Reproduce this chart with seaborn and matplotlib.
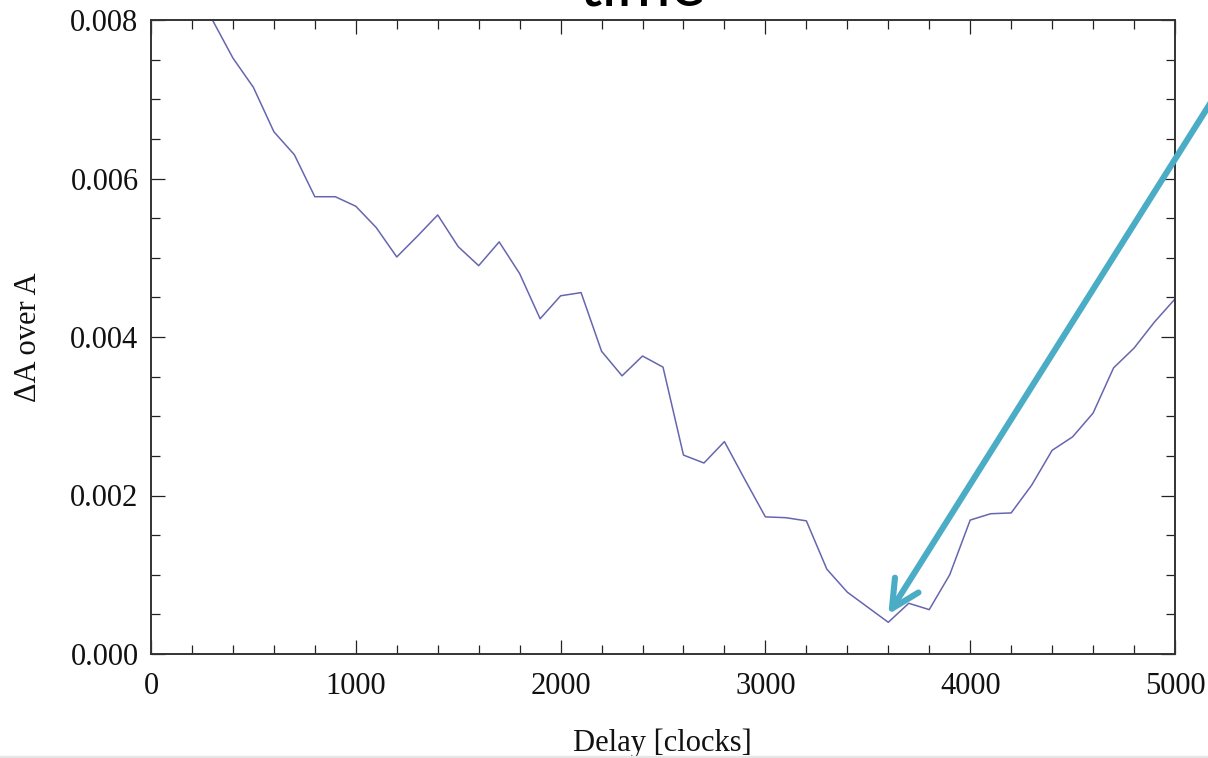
import numpy as np
import pandas as pd
import seaborn as sns
import matplotlib.pyplot as plt
from matplotlib.ticker import MultipleLocator
from matplotlib.patches import Rectangle

# delay in clocks and the relative asymmetry
delay = [300, 400, 500, 600, 700, 800, 900, 1000, 1100, 1200,
         1300, 1400, 1500, 1600, 1700, 1800, 1900, 2000, 2100, 2200,
         2300, 2400, 2500, 2600, 2700, 2800, 2900, 3000, 3100, 3200,
         3300, 3400, 3500, 3600, 3700, 3800, 3900, 4000, 4100, 4200,
         4300, 4400, 4500, 4600, 4700, 4800, 4900, 5000]
dA_over_A = [0.00800, 0.00752, 0.00715, 0.00659, 0.00630, 0.00577, 0.00577, 0.00565, 0.00538, 0.00501,
             0.00527, 0.00554, 0.00514, 0.00490, 0.00520, 0.00480, 0.00423, 0.00452, 0.00456, 0.00382,
             0.00351, 0.00376, 0.00362, 0.00251, 0.00241, 0.00268, 0.00220, 0.00173, 0.00172, 0.00168,
             0.00107, 0.00078, 0.00059, 0.00040, 0.00064, 0.00056, 0.00100, 0.00169, 0.00177, 0.00178,
             0.00213, 0.00257, 0.00274, 0.00304, 0.00361, 0.00386, 0.00419, 0.00448]

x_ticks = [0, 1000, 2000, 3000, 4000, 5000]
y_ticks = [0.000, 0.002, 0.004, 0.006, 0.008]

df = pd.DataFrame({'delay': delay, 'dA': dA_over_A})

sns.set_style('ticks')
plt.rcParams['font.family'] = ['Liberation Serif', 'DejaVu Serif']

fig = plt.figure(figsize=(12.08, 7.58), dpi=100)
ax = fig.add_axes([151/1208, 104/758, 1024/1208, 634/758])

sns.lineplot(data=df, x='delay', y='dA', color='#6666b0', linewidth=1.1, ax=ax)

ax.set_xlim(0, 5000)
ax.set_ylim(0, 0.008)
ax.set_xticks(x_ticks)
ax.set_yticks(y_ticks)
ax.set_xticklabels([str(v) for v in x_ticks])
ax.set_yticklabels(['%.3f' % v for v in y_ticks])
ax.xaxis.set_minor_locator(MultipleLocator(200))
ax.yaxis.set_minor_locator(MultipleLocator(0.0005))

for s in ax.spines.values():
    s.set_visible(True)
    s.set_color('#333333')
    s.set_linewidth(1.4)

ax.tick_params(which='both', direction='in', top=True, right=True, color='#222222', width=0.9)
ax.tick_params(which='major', length=10)
ax.tick_params(which='minor', length=6.5)
ax.tick_params(axis='y', which='major', labelsize=22, pad=9, labelcolor='#111111')
ax.tick_params(axis='x', which='major', labelsize=22, pad=13, labelcolor='#111111')

ax.set_xlabel('Delay [clocks]', fontsize=22, color='#111111')
ax.set_ylabel('\u0394A over A', fontsize=22, color='#111111')
ax.xaxis.set_label_coords(0.4995, -0.117)
ax.yaxis.set_label_coords(-0.105, 0.499)

# slide title, cut off at the top edge as in the source
fig.text(642/1208, 1 - 6/758, 'time', ha='center', va='baseline',
         fontsize=47, family=['Lato', 'DejaVu Sans'], color='black')

# pointer to the minimum
ax.annotate('', xy=(3600, 0.00050), xycoords='data',
            xytext=(1230, 686), textcoords='figure pixels',
            arrowprops=dict(arrowstyle='->,head_length=0.4,head_width=0.2',
                            color='#4bacc6', lw=4.4, mutation_scale=50,
                            shrinkA=0, shrinkB=0),
            annotation_clip=False)

fig.patches.append(Rectangle((0, 0), 1, 2/758, transform=fig.transFigure,
                             color='#e6e6e6', zorder=0))

fig.savefig('out.png', dpi=100)
